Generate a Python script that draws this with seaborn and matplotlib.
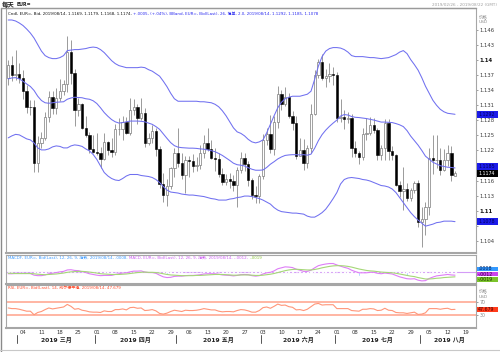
import matplotlib
matplotlib.use("Agg")
import matplotlib.pyplot as plt
import matplotlib.transforms as mtrans
from matplotlib.patches import Rectangle
import numpy as np
import pandas as pd
import seaborn as sns

# ---------------- data ----------------
dates = pd.bdate_range("2019-02-26", "2019-08-14")
axis_dates = pd.bdate_range("2019-02-26", "2019-08-22")

opens = [1.1364,1.1390,1.1370,1.1372,1.1364,1.1339,1.1307,1.1306,1.1194,1.1234,
1.1245,1.1287,1.1327,1.1305,1.1324,1.1338,1.1352,1.1417,1.1374,1.1300,
1.1312,1.1265,1.1250,1.1222,1.1217,1.1214,1.1203,1.1236,1.1221,1.1216,
1.1262,1.1263,1.1276,1.1254,1.1300,1.1306,1.1284,1.1294,1.1234,1.1244,
1.1258,1.1223,1.1154,1.1131,1.1150,1.1184,1.1214,1.1195,1.1171,1.1201,
1.1198,1.1189,1.1191,1.1214,1.1234,1.1223,1.1205,1.1202,1.1173,1.1157,
1.1163,1.1159,1.1151,1.1180,1.1204,1.1193,1.1161,1.1131,1.1130,1.1169,
1.1240,1.1252,1.1222,1.1276,1.1332,1.1312,1.1327,1.1288,1.1274,1.1209,
1.1220,1.1194,1.1224,1.1292,1.1370,1.1396,1.1365,1.1368,1.1372,1.1371,
1.1285,1.1286,1.1283,1.1284,1.1225,1.1214,1.1206,1.1252,1.1255,1.1271,
1.1260,1.1211,1.1224,1.1275,1.1219,1.1210,1.1152,1.1140,1.1144,1.1126,
1.1142,1.1155,1.1077,1.1083,1.1108,1.1204,1.1200,1.1201,1.1181,1.1201,
1.1214,1.1169]
highs = [1.1401,1.1408,1.1420,1.1395,1.1380,1.1350,1.1320,1.1320,1.1249,1.1257,
1.1297,1.1339,1.1338,1.1345,1.1362,1.1361,1.1448,1.1440,1.1382,1.1325,
1.1315,1.1288,1.1257,1.1250,1.1255,1.1226,1.1255,1.1239,1.1244,1.1272,
1.1285,1.1288,1.1286,1.1324,1.1323,1.1313,1.1324,1.1305,1.1254,1.1270,
1.1264,1.1228,1.1175,1.1163,1.1186,1.1224,1.1265,1.1215,1.1209,1.1208,
1.1213,1.1207,1.1230,1.1251,1.1265,1.1240,1.1225,1.1215,1.1184,1.1172,
1.1174,1.1170,1.1187,1.1216,1.1214,1.1199,1.1166,1.1150,1.1173,1.1253,
1.1265,1.1290,1.1288,1.1348,1.1340,1.1347,1.1335,1.1298,1.1288,1.1244,
1.1243,1.1230,1.1313,1.1380,1.1403,1.1412,1.1383,1.1394,1.1386,1.1377,
1.1323,1.1301,1.1297,1.1293,1.1238,1.1218,1.1265,1.1285,1.1286,1.1285,
1.1265,1.1230,1.1282,1.1283,1.1228,1.1212,1.1160,1.1186,1.1155,1.1146,
1.1160,1.1162,1.1108,1.1117,1.1225,1.1250,1.1250,1.1225,1.1222,1.1230,
1.1229,1.1179]
lows = [1.1350,1.1358,1.1360,1.1354,1.1322,1.1294,1.1290,1.1176,1.1176,1.1225,
1.1240,1.1277,1.1293,1.1293,1.1318,1.1331,1.1336,1.1353,1.1269,1.1288,
1.1263,1.1246,1.1214,1.1214,1.1211,1.1184,1.1201,1.1210,1.1206,1.1211,
1.1250,1.1240,1.1253,1.1250,1.1290,1.1272,1.1280,1.1226,1.1230,1.1234,
1.1208,1.1145,1.1118,1.1110,1.1143,1.1167,1.1187,1.1163,1.1136,1.1167,
1.1177,1.1178,1.1182,1.1205,1.1219,1.1202,1.1178,1.1167,1.1151,1.1151,
1.1146,1.1140,1.1107,1.1174,1.1178,1.1150,1.1124,1.1116,1.1116,1.1164,
1.1230,1.1215,1.1210,1.1265,1.1300,1.1308,1.1284,1.1260,1.1202,1.1208,
1.1181,1.1184,1.1214,1.1290,1.1364,1.1360,1.1346,1.1356,1.1350,1.1277,
1.1276,1.1263,1.1275,1.1207,1.1207,1.1193,1.1200,1.1240,1.1250,1.1254,
1.1200,1.1200,1.1200,1.1201,1.1200,1.1150,1.1127,1.1101,1.1120,1.1120,
1.1136,1.1068,1.1027,1.1051,1.1092,1.1172,1.1184,1.1170,1.1179,1.1189,
1.1160,1.1168]
closes = [1.1390,1.1370,1.1372,1.1364,1.1339,1.1307,1.1306,1.1194,1.1234,1.1245,
1.1287,1.1327,1.1305,1.1324,1.1338,1.1352,1.1417,1.1374,1.1300,1.1312,
1.1265,1.1250,1.1222,1.1217,1.1214,1.1203,1.1236,1.1221,1.1216,1.1262,
1.1263,1.1276,1.1254,1.1300,1.1306,1.1284,1.1294,1.1234,1.1244,1.1258,
1.1223,1.1154,1.1131,1.1150,1.1184,1.1214,1.1195,1.1171,1.1201,1.1198,
1.1189,1.1191,1.1214,1.1234,1.1223,1.1205,1.1202,1.1173,1.1157,1.1163,
1.1159,1.1151,1.1180,1.1204,1.1193,1.1161,1.1131,1.1130,1.1169,1.1240,
1.1252,1.1222,1.1276,1.1332,1.1312,1.1327,1.1288,1.1274,1.1209,1.1220,
1.1194,1.1224,1.1292,1.1370,1.1396,1.1365,1.1368,1.1372,1.1371,1.1285,
1.1286,1.1283,1.1284,1.1225,1.1214,1.1206,1.1252,1.1255,1.1271,1.1260,
1.1211,1.1224,1.1275,1.1219,1.1210,1.1152,1.1140,1.1144,1.1126,1.1142,
1.1155,1.1077,1.1083,1.1108,1.1204,1.1200,1.1201,1.1181,1.1201,1.1214,
1.1171,1.1174]

bb_upper = [1.1480,1.1480,1.1478,1.1474,1.1469,1.1462,1.1454,1.1444,1.1431,1.1418,
1.1409,1.1405,1.1403,1.1403,1.1405,1.1409,1.1419,1.1420,1.1421,1.1421,
1.1422,1.1423,1.1425,1.1426,1.1425,1.1421,1.1415,1.1407,1.1399,1.1393,
1.1389,1.1387,1.1385,1.1385,1.1385,1.1385,1.1386,1.1385,1.1381,1.1378,
1.1373,1.1368,1.1358,1.1347,1.1334,1.1323,1.1318,1.1318,1.1318,1.1318,
1.1318,1.1318,1.1317,1.1317,1.1316,1.1315,1.1312,1.1307,1.1299,1.1289,
1.1277,1.1265,1.1257,1.1254,1.1249,1.1242,1.1237,1.1235,1.1237,1.1241,
1.1255,1.1272,1.1289,1.1305,1.1316,1.1323,1.1326,1.1328,1.1328,1.1328,
1.1330,1.1332,1.1338,1.1362,1.1388,1.1407,1.1418,1.1423,1.1425,1.1425,
1.1424,1.1421,1.1416,1.1409,1.1407,1.1407,1.1407,1.1406,1.1405,1.1405,
1.1404,1.1403,1.1404,1.1405,1.1408,1.1411,1.1416,1.1419,1.1413,1.1401,
1.1391,1.1380,1.1365,1.1348,1.1334,1.1320,1.1310,1.1302,1.1297,1.1294,
1.1293,1.1292]
bb_lower = [1.1245,1.1249,1.1252,1.1251,1.1247,1.1243,1.1241,1.1235,1.1225,1.1221,
1.1221,1.1223,1.1227,1.1229,1.1228,1.1225,1.1225,1.1229,1.1231,1.1230,
1.1228,1.1223,1.1219,1.1212,1.1202,1.1189,1.1176,1.1169,1.1164,1.1161,
1.1160,1.1164,1.1169,1.1172,1.1172,1.1172,1.1170,1.1169,1.1168,1.1166,
1.1162,1.1156,1.1148,1.1141,1.1137,1.1136,1.1135,1.1133,1.1132,1.1131,
1.1131,1.1130,1.1129,1.1128,1.1126,1.1124,1.1123,1.1121,1.1121,1.1121,
1.1123,1.1124,1.1126,1.1127,1.1129,1.1129,1.1128,1.1126,1.1124,1.1121,
1.1117,1.1113,1.1106,1.1101,1.1098,1.1097,1.1096,1.1095,1.1095,1.1094,
1.1093,1.1089,1.1087,1.1087,1.1091,1.1096,1.1103,1.1113,1.1124,1.1136,
1.1153,1.1162,1.1165,1.1166,1.1165,1.1164,1.1162,1.1161,1.1159,1.1156,
1.1153,1.1150,1.1149,1.1147,1.1143,1.1136,1.1126,1.1116,1.1106,1.1096,
1.1088,1.1081,1.1075,1.1069,1.1071,1.1073,1.1076,1.1077,1.1079,1.1079,
1.1079,1.1078]

macd_line = [-0.0006,-0.0006,-0.0005,-0.0005,-0.0005,-0.0005,-0.0005,-0.0012,-0.0014,-0.0014,
-0.0011,-0.0006,-0.0004,-0.0001,0.0002,0.0004,0.0010,0.0011,0.0008,0.0007,
0.0003,-0.0001,-0.0006,-0.0009,-0.0012,-0.0014,-0.0013,-0.0013,-0.0013,-0.0009,
-0.0006,-0.0003,-0.0002,0.0002,0.0005,0.0005,0.0006,0.0001,-0.0001,-0.0001,
-0.0004,-0.0012,-0.0019,-0.0022,-0.0021,-0.0017,-0.0016,-0.0016,-0.0014,-0.0013,
-0.0013,-0.0012,-0.0010,-0.0007,-0.0006,-0.0006,-0.0006,-0.0008,-0.0011,-0.0012,
-0.0013,-0.0015,-0.0013,-0.0010,-0.0009,-0.0010,-0.0014,-0.0016,-0.0014,-0.0007,
-0.0002,0.0000,0.0006,0.0015,0.0019,0.0023,0.0022,0.0020,0.0013,0.0009,
0.0004,0.0004,0.0009,0.0019,0.0028,0.0032,0.0035,0.0037,0.0037,0.0031,
0.0026,0.0021,0.0017,0.0009,0.0003,-0.0002,-0.0002,-0.0002,0.0000,0.0000,
-0.0004,-0.0006,-0.0003,-0.0005,-0.0007,-0.0013,-0.0019,-0.0023,-0.0027,-0.0028,
-0.0027,-0.0033,-0.0036,-0.0035,-0.0026,-0.0020,-0.0015,-0.0013,-0.0011,-0.0009,
-0.0011,-0.0012]
macd_signal = [-0.0004,-0.0004,-0.0005,-0.0005,-0.0005,-0.0005,-0.0005,-0.0006,-0.0008,-0.0009,
-0.0010,-0.0009,-0.0008,-0.0007,-0.0005,-0.0003,0.0000,0.0002,0.0003,0.0004,
0.0004,0.0003,0.0001,-0.0001,-0.0003,-0.0006,-0.0007,-0.0008,-0.0009,-0.0009,
-0.0009,-0.0008,-0.0007,-0.0005,-0.0003,-0.0001,0.0000,0.0001,0.0000,0.0000,
-0.0001,-0.0003,-0.0006,-0.0009,-0.0011,-0.0012,-0.0013,-0.0014,-0.0014,-0.0014,
-0.0014,-0.0013,-0.0013,-0.0012,-0.0011,-0.0010,-0.0009,-0.0009,-0.0009,-0.0010,
-0.0011,-0.0012,-0.0012,-0.0011,-0.0011,-0.0011,-0.0012,-0.0013,-0.0013,-0.0012,
-0.0010,-0.0008,-0.0005,-0.0001,0.0003,0.0007,0.0010,0.0012,0.0013,0.0012,
0.0011,0.0010,0.0010,0.0012,0.0015,0.0019,0.0022,0.0025,0.0027,0.0028,
0.0028,0.0027,0.0025,0.0022,0.0018,0.0014,0.0011,0.0008,0.0006,0.0005,
0.0003,0.0001,0.0000,-0.0001,-0.0002,-0.0004,-0.0007,-0.0010,-0.0013,-0.0016,
-0.0018,-0.0022,-0.0025,-0.0028,-0.0028,-0.0027,-0.0025,-0.0024,-0.0022,-0.0021,
-0.0020,-0.0019]

rsi = [52,50,50,48,45,42,42,31,38,41,
47,52,49,51,53,55,63,57,48,50,
45,43,40,39,39,38,43,41,41,47,
47,49,46,53,54,51,52,44,45,47,
43,35,33,36,41,45,43,41,45,44,
44,45,47,50,48,46,46,42,40,41,
41,40,44,47,46,43,39,39,44,53,
55,51,57,64,60,61,56,54,46,47,
44,48,56,64,66,61,62,62,62,50,
50,50,50,44,43,42,48,48,50,49,
44,45,51,45,44,38,37,37,35,37,
39,32,33,37,50,50,50,48,50,51,
47,47.679]

price_ticks = [1.104,1.107,1.110,1.113,1.116,1.119,1.122,1.125,1.128,1.131,1.134,1.137,1.140,1.143,1.146]
month_names = {3: "2019 三月", 4: "2019 四月", 5: "2019 五月", 6: "2019 六月", 7: "2019 七月", 8: "2019 八月"}

# ---------------- style ----------------
sns.set_style("white")
plt.rcParams["font.family"] = ["DejaVu Sans", "Noto Sans CJK SC"]

fig = plt.figure(figsize=(5.0, 3.52), dpi=100)
H = 352.0
L = 5.5 / 500
W = (475.7 - 5.5) / 500
ax = fig.add_axes([L, 1 - 253 / H, W, (253 - 8.3) / H])
axm = fig.add_axes([L, 1 - 283.5 / H, W, (283.5 - 254.5) / H], sharex=ax)
axr = fig.add_axes([L, 1 - 328 / H, W, (328 - 285.0) / H], sharex=ax)

df = pd.DataFrame({"x": np.arange(len(dates)), "open": opens, "high": highs,
                   "low": lows, "close": closes, "upper": bb_upper, "lower": bb_lower,
                   "macd": macd_line, "signal": macd_signal, "rsi": rsi})
df["mid"] = (df["upper"] + df["lower"]) / 2
df["hist"] = df["macd"] - df["signal"]

# candles
up = df["close"] >= df["open"]
ax.vlines(df["x"], df["low"], df["high"], color="#8a8a8a", lw=0.6, zorder=2)
body = (df["close"] - df["open"]).abs().clip(lower=0.00007)
bottom = df[["open", "close"]].min(axis=1)
ax.bar(df["x"][up], body[up], bottom=bottom[up], width=0.64, color="white",
       edgecolor="#7c7c7c", linewidth=0.5, zorder=3)
ax.bar(df["x"][~up], body[~up], bottom=bottom[~up], width=0.64, color="black",
       edgecolor="black", linewidth=0.4, zorder=3)

band_col = "#7070f0"
for col in ["upper", "mid", "lower"]:
    sns.lineplot(data=df, x="x", y=col, ax=ax, color=band_col, linewidth=0.75, zorder=4)

ax.set_xlim(-0.73, 126.6)
ax.set_ylim(1.10155, 1.15033)

# MACD panel
axm.axhline(0, color="#d49cf7", lw=0.8, zorder=1)
axm.bar(df["x"], df["hist"], width=0.28, color="#86c3ff", zorder=2)
sns.lineplot(data=df, x="x", y="macd", ax=axm, color="#de7df7", linewidth=0.8, zorder=3)
sns.lineplot(data=df, x="x", y="signal", ax=axm, color="#a5d777", linewidth=0.8, zorder=3)
axm.set_ylim(-0.0047, 0.0075)

# RSI panel
axr.axhline(70, color="#ffb6a3", lw=1.4, zorder=1)
axr.axhline(30, color="#ffb6a3", lw=1.4, zorder=1)
sns.lineplot(data=df, x="x", y="rsi", ax=axr, color="#ff9679", linewidth=0.8, zorder=3)
axr.set_ylim(-10, 123)

spine_col = "#a6a6a6"
for a in (ax, axm, axr):
    a.set_xlabel("")
    a.set_ylabel("")
    a.yaxis.tick_right()
    for s in a.spines.values():
        s.set_color(spine_col)
        s.set_linewidth(0.8)
    a.spines["bottom"].set_linewidth(1.5)
    a.tick_params(axis="x", length=0, labelbottom=False)
    a.tick_params(axis="y", length=1.6, width=0.5, color="#777777",
                  labelsize=3.8, labelcolor="#3a3a3a", pad=1.2, direction="out")


def price_px(p):
    y0, y1 = ax.get_ylim()
    return 8.3 + (y1 - p) / (y1 - y0) * (253 - 8.3)


last_close = closes[-1]
mid_last = df["mid"].iloc[-1]
tag_rows = [
    (price_px(bb_upper[-1]), f"{bb_upper[-1]:.4f}", "#1b1be8", "#000060"),
    (min(price_px(mid_last), price_px(last_close) - 7), f"{mid_last:.4f}", "#1b1be8", "#000060"),
    (price_px(last_close), f"{last_close:.4f}", "#000000", "#ffffff"),
    (price_px(bb_lower[-1]), f"{bb_lower[-1]:.4f}", "#1b1be8", "#000060"),
]

# price ticks (labels hidden under the value tags are left blank, as on the reference)
ax.set_yticks(price_ticks)
labels = []
for t in price_ticks:
    s = f"{t:.3f}".rstrip("0")
    if any(abs(price_px(t) - r[0]) < 4.5 for r in tag_rows):
        s = ""
    labels.append(s)
ax.set_yticklabels(labels)
for lab, t in zip(ax.get_yticklabels(), labels):
    if len(t) == 4:
        lab.set_fontweight("bold")
        lab.set_color("#111111")

axm.set_yticks([])
axr.set_yticks([30, 70])
axr.set_yticklabels(["30", "70"])
axr.tick_params(axis="y", labelcolor="#888888", labelsize=3.4)

# date axis
mondays = [i for i, d in enumerate(axis_dates) if d.weekday() == 0]
axr.set_xticks(mondays)
axr.set_xticklabels([axis_dates[i].strftime("%d") for i in mondays])
axr.tick_params(axis="x", labelbottom=True, labelsize=3.8, labelcolor="#333333", pad=1.5)

tr_r = mtrans.blended_transform_factory(axr.transData, axr.transAxes)
idx = np.arange(len(axis_dates))
for m, name in month_names.items():
    sel = idx[axis_dates.month == m]
    first = sel[0]
    axr.plot([first - 0.5, first - 0.5], [-0.17, -0.35], transform=tr_r, color="#555555",
             lw=0.7, clip_on=False)
    axr.text(sel.mean(), -0.28, name, transform=tr_r, ha="center", va="center",
             fontsize=4.3, fontweight="bold", color="#222222", clip_on=False)


# right-side value tags (pixel-based placement)
def tag(ypx, text, fc, tc, hpx):
    fy = 1 - ypx / H
    fig.patches.append(Rectangle((476.5 / 500, fy - hpx / 2 / H), 21.5 / 500, hpx / H,
                                 transform=fig.transFigure, facecolor=fc,
                                 edgecolor="none", zorder=10))
    fig.text(478 / 500, fy, text, fontsize=3.4, color=tc, ha="left", va="center", zorder=11)


for ypx, text, fc, tc in tag_rows:
    tag(ypx, text, fc, tc, 6.5)

tag(269.0, ".0008", "#3399ff", "#00205a", 4.2)
tag(274.2, "-.0012", "#cc44ee", "#3a004a", 4.2)
tag(279.4, "-.0019", "#7cc42c", "#1d3a00", 4.2)
tag(309.3, "47.679", "#ff3b1a", "#4a0000", 4.5)

# legends
fs = 2.85
t1 = ax.text(0.006, 0.986, "Cndl, EUR=, Bid, 2019/08/14, 1.1169, 1.1179, 1.1168, 1.1174, ",
             transform=ax.transAxes, fontsize=fs, color="#111111", va="top", ha="left")
ax.annotate("+.0005, (+.04%), BBand, EUR=, Bid(Last), 26, 简单, 2.0, 2019/08/14, 1.1292, 1.1185, 1.1078",
            xy=(1, 0), xycoords=t1, fontsize=fs, color="#2a2af0", va="bottom", ha="left")

m1 = axm.text(0.006, 0.95, "MACDF, EUR=, Bid(Last), 12, 26, 9, 指数, 2019/08/14, .0008, ",
              transform=axm.transAxes, fontsize=fs, color="#3d9bff", va="top", ha="left")
m2 = axm.annotate("MACD, EUR=, Bid(Last), 12, 26, 9, 指数, 2019/08/14, -.0012, ",
                  xy=(1, 0), xycoords=m1, fontsize=fs, color="#cc5cf2", va="bottom", ha="left")
axm.annotate("-.0019", xy=(1, 0), xycoords=m2, fontsize=fs, color="#8cc63f",
             va="bottom", ha="left")

axr.text(0.006, 0.975, "RSI, EUR=, Bid(Last), 14, 威尔德平滑, 2019/08/14, 47.679",
         transform=axr.transAxes, fontsize=fs, color="#ff4a2a", va="top", ha="left")

# header texts
fig.text(2 / 500, 1 - 4 / H, "每天", fontsize=4.6, fontweight="bold", va="center", ha="left",
         family=["Noto Sans CJK SC", "DejaVu Sans"])
fig.text(17 / 500, 1 - 4 / H, "EUR=", fontsize=3.4, fontweight="bold", va="center", ha="left")
fig.text(497 / 500, 1 - 5 / H, "2019/02/26 - 2019/08/22 (GMT)", fontsize=3.0, color="#a0a0a0",
         va="center", ha="right")
fig.text(479 / 500, 1 - 16.5 / H, "价格", fontsize=3.2, color="#8c8c8c", va="center", ha="left",
         family=["Noto Sans CJK SC", "DejaVu Sans"])
fig.text(479 / 500, 1 - 22 / H, "USD", fontsize=3.2, color="#8c8c8c", va="center", ha="left")
fig.text(479 / 500, 1 - 291 / H, "价格", fontsize=3.2, color="#8c8c8c", va="center", ha="left",
         family=["Noto Sans CJK SC", "DejaVu Sans"])
fig.text(479 / 500, 1 - 296.5 / H, "USD", fontsize=3.2, color="#8c8c8c", va="center", ha="left")

# outer frame lines
fig.add_artist(plt.Line2D([1 / 500, 1 / 500], [0, 1 - 8 / H], color="#8a8a8a", lw=1.0))
fig.add_artist(plt.Line2D([0, 1], [2 / H, 2 / H], color="#c8c8c8", lw=0.8))
fig.add_artist(plt.Line2D([1 / 500, 476 / 500], [1 - 8.3 / H, 1 - 8.3 / H], color="#9a9a9a", lw=1.0))

fig.savefig("out.png", dpi=100, facecolor="white")
